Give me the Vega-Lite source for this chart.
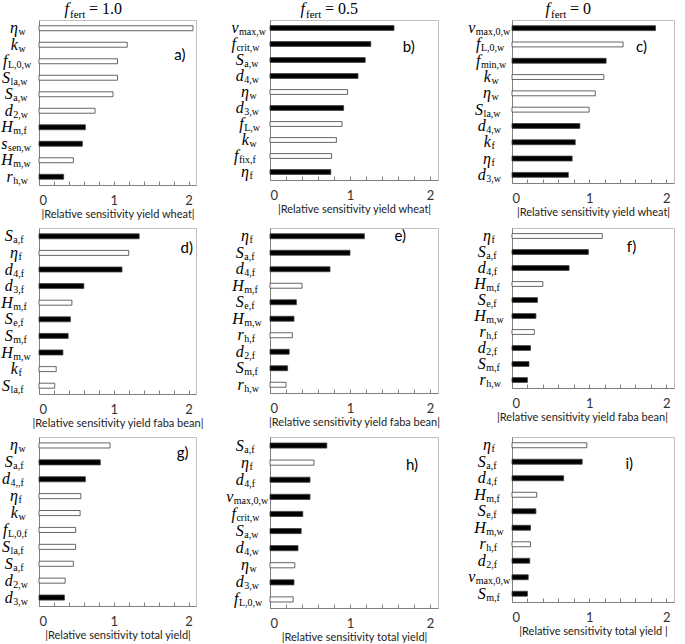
{
  "$schema": "https://vega.github.io/schema/vega-lite/v6.json",
  "background": "white",
  "padding": {"left": 0, "top": 0, "right": 2, "bottom": 1},
  "columns": 3,
  "align": "each",
  "bounds": "flush",
  "spacing": {"row": 43, "column": 74},
  "config": {
    "view": {"stroke": "#c0c0c0", "strokeWidth": 1},
    "font": "Lato",
    "axisX": {"tickCount": 11, "labelExpr": "datum.value === 0 ? '0' : datum.value === 1 ? '1' : datum.value === 2 ? '2' : ''", "grid": false, "tickSize": -4, "tickColor": "#7f7f7f", "domainColor": "#7f7f7f", "labelFont": "Lato", "labelFontSize": 13, "labelColor": "#333333", "labelPadding": 13, "titleFont": "Lato", "titleFontSize": 11, "titleFontWeight": "normal", "titleColor": "#222222", "titlePadding": 1},
    "axisY": {"labels": false, "ticks": false, "domain": true, "domainColor": "#7f7f7f", "title": null, "grid": false}
  },
  "datasets": {
    "sens": [
      {"panel":"a","rank":1,"sym":"η","sub":"w","value":2.06,"sign":"pos"},
      {"panel":"a","rank":2,"sym":"k","sub":"w","value":1.18,"sign":"pos"},
      {"panel":"a","rank":3,"sym":"f","sub":"L,0,w","value":1.05,"sign":"pos"},
      {"panel":"a","rank":4,"sym":"S","sub":"la,w","value":1.05,"sign":"pos"},
      {"panel":"a","rank":5,"sym":"S","sub":"a,w","value":0.99,"sign":"pos"},
      {"panel":"a","rank":6,"sym":"d","sub":"2,w","value":0.75,"sign":"pos"},
      {"panel":"a","rank":7,"sym":"H","sub":"m,f","value":0.62,"sign":"neg"},
      {"panel":"a","rank":8,"sym":"s","sub":"sen,w","value":0.58,"sign":"neg"},
      {"panel":"a","rank":9,"sym":"H","sub":"m,w","value":0.46,"sign":"pos"},
      {"panel":"a","rank":10,"sym":"r","sub":"h,w","value":0.33,"sign":"neg"},
      {"panel":"b","rank":1,"sym":"ν","sub":"max,w","value":1.55,"sign":"neg"},
      {"panel":"b","rank":2,"sym":"f","sub":"crit,w","value":1.26,"sign":"neg"},
      {"panel":"b","rank":3,"sym":"S","sub":"a,w","value":1.19,"sign":"neg"},
      {"panel":"b","rank":4,"sym":"d","sub":"4,w","value":1.10,"sign":"neg"},
      {"panel":"b","rank":5,"sym":"η","sub":"w","value":0.97,"sign":"pos"},
      {"panel":"b","rank":6,"sym":"d","sub":"3,w","value":0.92,"sign":"neg"},
      {"panel":"b","rank":7,"sym":"f","sub":"L,w","value":0.90,"sign":"pos"},
      {"panel":"b","rank":8,"sym":"k","sub":"w","value":0.83,"sign":"pos"},
      {"panel":"b","rank":9,"sym":"f","sub":"fix,f","value":0.77,"sign":"pos"},
      {"panel":"b","rank":10,"sym":"η","sub":"f","value":0.76,"sign":"neg"},
      {"panel":"c","rank":1,"sym":"ν","sub":"max,0,w","value":1.86,"sign":"neg"},
      {"panel":"c","rank":2,"sym":"f","sub":"L,0,w","value":1.44,"sign":"pos"},
      {"panel":"c","rank":3,"sym":"f","sub":"min,w","value":1.22,"sign":"neg"},
      {"panel":"c","rank":4,"sym":"k","sub":"w","value":1.19,"sign":"pos"},
      {"panel":"c","rank":5,"sym":"η","sub":"w","value":1.08,"sign":"pos"},
      {"panel":"c","rank":6,"sym":"S","sub":"la,w","value":1.00,"sign":"pos"},
      {"panel":"c","rank":7,"sym":"d","sub":"4,w","value":0.88,"sign":"neg"},
      {"panel":"c","rank":8,"sym":"k","sub":"f","value":0.82,"sign":"neg"},
      {"panel":"c","rank":9,"sym":"η","sub":"f","value":0.78,"sign":"neg"},
      {"panel":"c","rank":10,"sym":"d","sub":"3,w","value":0.73,"sign":"neg"},
      {"panel":"d","rank":1,"sym":"S","sub":"a,f","value":1.34,"sign":"neg"},
      {"panel":"d","rank":2,"sym":"η","sub":"f","value":1.20,"sign":"pos"},
      {"panel":"d","rank":3,"sym":"d","sub":"4,f","value":1.11,"sign":"neg"},
      {"panel":"d","rank":4,"sym":"d","sub":"3,f","value":0.60,"sign":"neg"},
      {"panel":"d","rank":5,"sym":"H","sub":"m,f","value":0.44,"sign":"pos"},
      {"panel":"d","rank":6,"sym":"S","sub":"e,f","value":0.42,"sign":"neg"},
      {"panel":"d","rank":7,"sym":"S","sub":"m,f","value":0.39,"sign":"neg"},
      {"panel":"d","rank":8,"sym":"H","sub":"m,w","value":0.32,"sign":"neg"},
      {"panel":"d","rank":9,"sym":"k","sub":"f","value":0.23,"sign":"pos"},
      {"panel":"d","rank":10,"sym":"S","sub":"la,f","value":0.21,"sign":"pos"},
      {"panel":"e","rank":1,"sym":"η","sub":"f","value":1.18,"sign":"neg"},
      {"panel":"e","rank":2,"sym":"S","sub":"a,f","value":1.00,"sign":"neg"},
      {"panel":"e","rank":3,"sym":"d","sub":"4,f","value":0.75,"sign":"neg"},
      {"panel":"e","rank":4,"sym":"H","sub":"m,f","value":0.40,"sign":"pos"},
      {"panel":"e","rank":5,"sym":"S","sub":"e,f","value":0.33,"sign":"neg"},
      {"panel":"e","rank":6,"sym":"H","sub":"m,w","value":0.30,"sign":"neg"},
      {"panel":"e","rank":7,"sym":"r","sub":"h,f","value":0.28,"sign":"pos"},
      {"panel":"e","rank":8,"sym":"d","sub":"2,f","value":0.24,"sign":"neg"},
      {"panel":"e","rank":9,"sym":"S","sub":"m,f","value":0.22,"sign":"neg"},
      {"panel":"e","rank":10,"sym":"r","sub":"h,w","value":0.20,"sign":"pos"},
      {"panel":"f","rank":1,"sym":"η","sub":"f","value":1.17,"sign":"pos"},
      {"panel":"f","rank":2,"sym":"S","sub":"a,f","value":0.99,"sign":"neg"},
      {"panel":"f","rank":3,"sym":"d","sub":"4,f","value":0.74,"sign":"neg"},
      {"panel":"f","rank":4,"sym":"H","sub":"m,f","value":0.40,"sign":"pos"},
      {"panel":"f","rank":5,"sym":"S","sub":"e,f","value":0.33,"sign":"neg"},
      {"panel":"f","rank":6,"sym":"H","sub":"m,w","value":0.31,"sign":"neg"},
      {"panel":"f","rank":7,"sym":"r","sub":"h,f","value":0.29,"sign":"pos"},
      {"panel":"f","rank":8,"sym":"d","sub":"2,f","value":0.24,"sign":"neg"},
      {"panel":"f","rank":9,"sym":"S","sub":"m,f","value":0.22,"sign":"neg"},
      {"panel":"f","rank":10,"sym":"r","sub":"h,w","value":0.20,"sign":"neg"},
      {"panel":"g","rank":1,"sym":"η","sub":"w","value":0.95,"sign":"pos"},
      {"panel":"g","rank":2,"sym":"S","sub":"a,f","value":0.82,"sign":"neg"},
      {"panel":"g","rank":3,"sym":"d","sub":"4,,f","value":0.62,"sign":"neg"},
      {"panel":"g","rank":4,"sym":"η","sub":"f","value":0.56,"sign":"pos"},
      {"panel":"g","rank":5,"sym":"k","sub":"w","value":0.55,"sign":"pos"},
      {"panel":"g","rank":6,"sym":"f","sub":"L,0,f","value":0.49,"sign":"pos"},
      {"panel":"g","rank":7,"sym":"S","sub":"la,f","value":0.49,"sign":"pos"},
      {"panel":"g","rank":8,"sym":"S","sub":"a,f","value":0.46,"sign":"pos"},
      {"panel":"g","rank":9,"sym":"d","sub":"2,w","value":0.35,"sign":"pos"},
      {"panel":"g","rank":10,"sym":"d","sub":"3,w","value":0.34,"sign":"neg"},
      {"panel":"h","rank":1,"sym":"S","sub":"a,f","value":0.71,"sign":"neg"},
      {"panel":"h","rank":2,"sym":"η","sub":"f","value":0.55,"sign":"pos"},
      {"panel":"h","rank":3,"sym":"d","sub":"4,f","value":0.50,"sign":"neg"},
      {"panel":"h","rank":4,"sym":"ν","sub":"max,0,w","value":0.50,"sign":"neg"},
      {"panel":"h","rank":5,"sym":"f","sub":"crit,w","value":0.41,"sign":"neg"},
      {"panel":"h","rank":6,"sym":"S","sub":"a,w","value":0.39,"sign":"neg"},
      {"panel":"h","rank":7,"sym":"d","sub":"4,w","value":0.35,"sign":"neg"},
      {"panel":"h","rank":8,"sym":"η","sub":"w","value":0.31,"sign":"pos"},
      {"panel":"h","rank":9,"sym":"d","sub":"3,w","value":0.30,"sign":"neg"},
      {"panel":"h","rank":10,"sym":"f","sub":"L,0,w","value":0.29,"sign":"pos"},
      {"panel":"i","rank":1,"sym":"η","sub":"f","value":0.97,"sign":"pos"},
      {"panel":"i","rank":2,"sym":"S","sub":"a,f","value":0.91,"sign":"neg"},
      {"panel":"i","rank":3,"sym":"d","sub":"4,f","value":0.67,"sign":"neg"},
      {"panel":"i","rank":4,"sym":"H","sub":"m,f","value":0.32,"sign":"pos"},
      {"panel":"i","rank":5,"sym":"S","sub":"e,f","value":0.31,"sign":"neg"},
      {"panel":"i","rank":6,"sym":"H","sub":"m,w","value":0.24,"sign":"neg"},
      {"panel":"i","rank":7,"sym":"r","sub":"h,f","value":0.24,"sign":"pos"},
      {"panel":"i","rank":8,"sym":"d","sub":"2,f","value":0.23,"sign":"neg"},
      {"panel":"i","rank":9,"sym":"ν","sub":"max,0,w","value":0.21,"sign":"neg"},
      {"panel":"i","rank":10,"sym":"S","sub":"m,f","value":0.20,"sign":"neg"}
    ]
  },
  "concat": [
    {
      "width": 157, "height": 165,
      "data": {"name": "sens"},
      "transform": [{"filter": "datum.panel === 'a'"}],
      "encoding": {"y": {"field": "rank", "type": "ordinal", "scale": {"paddingInner": 0.7, "paddingOuter": 0.35}}},
      "layer": [
        {"mark": {"type": "bar", "stroke": "#404040", "strokeWidth": 0.8},
         "encoding": {
           "x": {"field": "value", "type": "quantitative", "scale": {"domain": [0, 2.1], "nice": false}, "axis": {"title": "|Relative sensitivity yield wheat|"}},
           "fill": {"field": "sign", "type": "nominal", "scale": {"domain": ["neg", "pos"], "range": ["#000000", "#ffffff"]}, "legend": null}}},
        {"mark": {"type": "text", "font": "Liberation Serif", "fontStyle": "italic", "fontSize": 16, "align": "right", "baseline": "middle", "dx": {"expr": "-18.5 - 2.6*length(datum.sub)"}},
         "encoding": {"x": {"datum": 0}, "text": {"field": "sym"}}},
        {"mark": {"type": "text", "font": "Liberation Serif", "fontSize": 10, "align": "left", "baseline": "middle", "dy": 4, "dx": {"expr": "-18 - 2.6*length(datum.sub)"}},
         "encoding": {"x": {"datum": 0}, "text": {"field": "sub"}}},
        {"transform": [{"filter": "datum.rank === 1"}],
         "mark": {"type": "text", "text": "a)", "font": "Lato", "fontSize": 15, "align": "right", "baseline": "middle", "dy": 10},
         "encoding": {"x": {"datum": 1.96}, "y": {"datum": 2}}},
        {"transform": [{"filter": "datum.rank === 1"}],
         "mark": {"type": "text", "text": "f", "font": "Liberation Serif", "fontStyle": "italic", "fontSize": 16, "align": "right", "baseline": "alphabetic", "dx": 30, "dy": -14},
         "encoding": {"x": {"datum": 0}, "y": {"datum": 1}}},
        {"transform": [{"filter": "datum.rank === 1"}],
         "mark": {"type": "text", "text": "fert", "font": "Liberation Serif", "fontSize": 11, "align": "left", "baseline": "alphabetic", "dx": 31, "dy": -10},
         "encoding": {"x": {"datum": 0}, "y": {"datum": 1}}},
        {"transform": [{"filter": "datum.rank === 1"}],
         "mark": {"type": "text", "text": "= 1.0", "font": "Liberation Serif", "fontSize": 16, "align": "left", "baseline": "alphabetic", "dx": 50, "dy": -14},
         "encoding": {"x": {"datum": 0}, "y": {"datum": 1}}}
      ]
    },
    {
      "width": 168, "height": 160,
      "data": {"name": "sens"},
      "transform": [{"filter": "datum.panel === 'b'"}],
      "encoding": {"y": {"field": "rank", "type": "ordinal", "scale": {"paddingInner": 0.7, "paddingOuter": 0.35}}},
      "layer": [
        {"mark": {"type": "bar", "stroke": "#404040", "strokeWidth": 0.8},
         "encoding": {
           "x": {"field": "value", "type": "quantitative", "scale": {"domain": [0, 2.1], "nice": false}, "axis": {"title": "|Relative sensitivity yield wheat|"}},
           "fill": {"field": "sign", "type": "nominal", "scale": {"domain": ["neg", "pos"], "range": ["#000000", "#ffffff"]}, "legend": null}}},
        {"mark": {"type": "text", "font": "Liberation Serif", "fontStyle": "italic", "fontSize": 16, "align": "right", "baseline": "middle", "dx": {"expr": "-18.5 - 2.6*length(datum.sub)"}},
         "encoding": {"x": {"datum": 0}, "text": {"field": "sym"}}},
        {"mark": {"type": "text", "font": "Liberation Serif", "fontSize": 10, "align": "left", "baseline": "middle", "dy": 4, "dx": {"expr": "-18 - 2.6*length(datum.sub)"}},
         "encoding": {"x": {"datum": 0}, "text": {"field": "sub"}}},
        {"transform": [{"filter": "datum.rank === 1"}],
         "mark": {"type": "text", "text": "b)", "font": "Lato", "fontSize": 15, "align": "right", "baseline": "middle", "dy": 3},
         "encoding": {"x": {"datum": 1.81}, "y": {"datum": 2}}},
        {"transform": [{"filter": "datum.rank === 1"}],
         "mark": {"type": "text", "text": "f", "font": "Liberation Serif", "fontStyle": "italic", "fontSize": 16, "align": "right", "baseline": "alphabetic", "dx": 35, "dy": -14},
         "encoding": {"x": {"datum": 0}, "y": {"datum": 1}}},
        {"transform": [{"filter": "datum.rank === 1"}],
         "mark": {"type": "text", "text": "fert", "font": "Liberation Serif", "fontSize": 11, "align": "left", "baseline": "alphabetic", "dx": 36, "dy": -10},
         "encoding": {"x": {"datum": 0}, "y": {"datum": 1}}},
        {"transform": [{"filter": "datum.rank === 1"}],
         "mark": {"type": "text", "text": "= 0.5", "font": "Liberation Serif", "fontSize": 16, "align": "left", "baseline": "alphabetic", "dx": 55, "dy": -14},
         "encoding": {"x": {"datum": 0}, "y": {"datum": 1}}}
      ]
    },
    {
      "width": 162, "height": 163,
      "data": {"name": "sens"},
      "transform": [{"filter": "datum.panel === 'c'"}],
      "encoding": {"y": {"field": "rank", "type": "ordinal", "scale": {"paddingInner": 0.7, "paddingOuter": 0.35}}},
      "layer": [
        {"mark": {"type": "bar", "stroke": "#404040", "strokeWidth": 0.8},
         "encoding": {
           "x": {"field": "value", "type": "quantitative", "scale": {"domain": [0, 2.1], "nice": false}, "axis": {"title": "|Relative sensitivity yield wheat|"}},
           "fill": {"field": "sign", "type": "nominal", "scale": {"domain": ["neg", "pos"], "range": ["#000000", "#ffffff"]}, "legend": null}}},
        {"mark": {"type": "text", "font": "Liberation Serif", "fontStyle": "italic", "fontSize": 16, "align": "right", "baseline": "middle", "dx": {"expr": "-18.5 - 2.6*length(datum.sub)"}},
         "encoding": {"x": {"datum": 0}, "text": {"field": "sym"}}},
        {"mark": {"type": "text", "font": "Liberation Serif", "fontSize": 10, "align": "left", "baseline": "middle", "dy": 4, "dx": {"expr": "-18 - 2.6*length(datum.sub)"}},
         "encoding": {"x": {"datum": 0}, "text": {"field": "sub"}}},
        {"transform": [{"filter": "datum.rank === 1"}],
         "mark": {"type": "text", "text": "c)", "font": "Lato", "fontSize": 15, "align": "right", "baseline": "middle", "dy": 3},
         "encoding": {"x": {"datum": 1.75}, "y": {"datum": 2}}},
        {"transform": [{"filter": "datum.rank === 1"}],
         "mark": {"type": "text", "text": "f", "font": "Liberation Serif", "fontStyle": "italic", "fontSize": 16, "align": "right", "baseline": "alphabetic", "dx": 38, "dy": -14},
         "encoding": {"x": {"datum": 0}, "y": {"datum": 1}}},
        {"transform": [{"filter": "datum.rank === 1"}],
         "mark": {"type": "text", "text": "fert", "font": "Liberation Serif", "fontSize": 11, "align": "left", "baseline": "alphabetic", "dx": 39, "dy": -10},
         "encoding": {"x": {"datum": 0}, "y": {"datum": 1}}},
        {"transform": [{"filter": "datum.rank === 1"}],
         "mark": {"type": "text", "text": "= 0", "font": "Liberation Serif", "fontSize": 16, "align": "left", "baseline": "alphabetic", "dx": 58, "dy": -14},
         "encoding": {"x": {"datum": 0}, "y": {"datum": 1}}}
      ]
    },
    {
      "width": 157, "height": 166,
      "data": {"name": "sens"},
      "transform": [{"filter": "datum.panel === 'd'"}],
      "encoding": {"y": {"field": "rank", "type": "ordinal", "scale": {"paddingInner": 0.7, "paddingOuter": 0.35}}},
      "layer": [
        {"mark": {"type": "bar", "stroke": "#404040", "strokeWidth": 0.8},
         "encoding": {
           "x": {"field": "value", "type": "quantitative", "scale": {"domain": [0, 2.1], "nice": false}, "axis": {"title": "|Relative sensitivity yield faba bean|"}},
           "fill": {"field": "sign", "type": "nominal", "scale": {"domain": ["neg", "pos"], "range": ["#000000", "#ffffff"]}, "legend": null}}},
        {"mark": {"type": "text", "font": "Liberation Serif", "fontStyle": "italic", "fontSize": 16, "align": "right", "baseline": "middle", "dx": {"expr": "-18.5 - 2.6*length(datum.sub)"}},
         "encoding": {"x": {"datum": 0}, "text": {"field": "sym"}}},
        {"mark": {"type": "text", "font": "Liberation Serif", "fontSize": 10, "align": "left", "baseline": "middle", "dy": 4, "dx": {"expr": "-18 - 2.6*length(datum.sub)"}},
         "encoding": {"x": {"datum": 0}, "text": {"field": "sub"}}},
        {"transform": [{"filter": "datum.rank === 1"}],
         "mark": {"type": "text", "text": "d)", "font": "Lato", "fontSize": 15, "align": "right", "baseline": "middle", "dy": -5},
         "encoding": {"x": {"datum": 2.06}, "y": {"datum": 2}}}
      ]
    },
    {
      "width": 168, "height": 165,
      "data": {"name": "sens"},
      "transform": [{"filter": "datum.panel === 'e'"}],
      "encoding": {"y": {"field": "rank", "type": "ordinal", "scale": {"paddingInner": 0.7, "paddingOuter": 0.35}}},
      "layer": [
        {"mark": {"type": "bar", "stroke": "#404040", "strokeWidth": 0.8},
         "encoding": {
           "x": {"field": "value", "type": "quantitative", "scale": {"domain": [0, 2.1], "nice": false}, "axis": {"title": "|Relative sensitivity yield faba bean|"}},
           "fill": {"field": "sign", "type": "nominal", "scale": {"domain": ["neg", "pos"], "range": ["#000000", "#ffffff"]}, "legend": null}}},
        {"mark": {"type": "text", "font": "Liberation Serif", "fontStyle": "italic", "fontSize": 16, "align": "right", "baseline": "middle", "dx": {"expr": "-18.5 - 2.6*length(datum.sub)"}},
         "encoding": {"x": {"datum": 0}, "text": {"field": "sym"}}},
        {"mark": {"type": "text", "font": "Liberation Serif", "fontSize": 10, "align": "left", "baseline": "middle", "dy": 4, "dx": {"expr": "-18 - 2.6*length(datum.sub)"}},
         "encoding": {"x": {"datum": 0}, "text": {"field": "sub"}}},
        {"transform": [{"filter": "datum.rank === 1"}],
         "mark": {"type": "text", "text": "e)", "font": "Lato", "fontSize": 15, "align": "right", "baseline": "middle", "dy": 0},
         "encoding": {"x": {"datum": 1.70}, "y": {"datum": 1}}}
      ]
    },
    {
      "width": 162, "height": 160,
      "data": {"name": "sens"},
      "transform": [{"filter": "datum.panel === 'f'"}],
      "encoding": {"y": {"field": "rank", "type": "ordinal", "scale": {"paddingInner": 0.7, "paddingOuter": 0.35}}},
      "layer": [
        {"mark": {"type": "bar", "stroke": "#404040", "strokeWidth": 0.8},
         "encoding": {
           "x": {"field": "value", "type": "quantitative", "scale": {"domain": [0, 2.1], "nice": false}, "axis": {"title": "|Relative sensitivity yield faba bean|", "titleX": 70}},
           "fill": {"field": "sign", "type": "nominal", "scale": {"domain": ["neg", "pos"], "range": ["#000000", "#ffffff"]}, "legend": null}}},
        {"mark": {"type": "text", "font": "Liberation Serif", "fontStyle": "italic", "fontSize": 16, "align": "right", "baseline": "middle", "dx": {"expr": "-18.5 - 2.6*length(datum.sub)"}},
         "encoding": {"x": {"datum": 0}, "text": {"field": "sym"}}},
        {"mark": {"type": "text", "font": "Liberation Serif", "fontSize": 10, "align": "left", "baseline": "middle", "dy": 4, "dx": {"expr": "-18 - 2.6*length(datum.sub)"}},
         "encoding": {"x": {"datum": 0}, "text": {"field": "sub"}}},
        {"transform": [{"filter": "datum.rank === 1"}],
         "mark": {"type": "text", "text": "f)", "font": "Lato", "fontSize": 15, "align": "right", "baseline": "middle", "dy": -5},
         "encoding": {"x": {"datum": 1.61}, "y": {"datum": 2}}}
      ]
    },
    {
      "width": 157, "height": 169,
      "data": {"name": "sens"},
      "transform": [{"filter": "datum.panel === 'g'"}],
      "encoding": {"y": {"field": "rank", "type": "ordinal", "scale": {"paddingInner": 0.7, "paddingOuter": 0.35}}},
      "layer": [
        {"mark": {"type": "bar", "stroke": "#404040", "strokeWidth": 0.8},
         "encoding": {
           "x": {"field": "value", "type": "quantitative", "scale": {"domain": [0, 2.1], "nice": false}, "axis": {"title": "|Relative sensitivity total yield|"}},
           "fill": {"field": "sign", "type": "nominal", "scale": {"domain": ["neg", "pos"], "range": ["#000000", "#ffffff"]}, "legend": null}}},
        {"mark": {"type": "text", "font": "Liberation Serif", "fontStyle": "italic", "fontSize": 16, "align": "right", "baseline": "middle", "dx": {"expr": "-18.5 - 2.6*length(datum.sub)"}},
         "encoding": {"x": {"datum": 0}, "text": {"field": "sym"}}},
        {"mark": {"type": "text", "font": "Liberation Serif", "fontSize": 10, "align": "left", "baseline": "middle", "dy": 4, "dx": {"expr": "-18 - 2.6*length(datum.sub)"}},
         "encoding": {"x": {"datum": 0}, "text": {"field": "sub"}}},
        {"transform": [{"filter": "datum.rank === 1"}],
         "mark": {"type": "text", "text": "g)", "font": "Lato", "fontSize": 15, "align": "right", "baseline": "middle", "dy": 8},
         "encoding": {"x": {"datum": 2.0}, "y": {"datum": 1}}}
      ]
    },
    {
      "width": 168, "height": 171,
      "data": {"name": "sens"},
      "transform": [{"filter": "datum.panel === 'h'"}],
      "encoding": {"y": {"field": "rank", "type": "ordinal", "scale": {"paddingInner": 0.7, "paddingOuter": 0.35}}},
      "layer": [
        {"mark": {"type": "bar", "stroke": "#404040", "strokeWidth": 0.8},
         "encoding": {
           "x": {"field": "value", "type": "quantitative", "scale": {"domain": [0, 2.1], "nice": false}, "axis": {"title": "|Relative sensitivity total yield|"}},
           "fill": {"field": "sign", "type": "nominal", "scale": {"domain": ["neg", "pos"], "range": ["#000000", "#ffffff"]}, "legend": null}}},
        {"mark": {"type": "text", "font": "Liberation Serif", "fontStyle": "italic", "fontSize": 16, "align": "right", "baseline": "middle", "dx": {"expr": "-18.5 - 2.6*length(datum.sub)"}},
         "encoding": {"x": {"datum": 0}, "text": {"field": "sym"}}},
        {"mark": {"type": "text", "font": "Liberation Serif", "fontSize": 10, "align": "left", "baseline": "middle", "dy": 4, "dx": {"expr": "-18 - 2.6*length(datum.sub)"}},
         "encoding": {"x": {"datum": 0}, "text": {"field": "sub"}}},
        {"transform": [{"filter": "datum.rank === 1"}],
         "mark": {"type": "text", "text": "h)", "font": "Lato", "fontSize": 15, "align": "right", "baseline": "middle", "dy": 2},
         "encoding": {"x": {"datum": 1.85}, "y": {"datum": 2}}}
      ]
    },
    {
      "width": 162, "height": 165,
      "data": {"name": "sens"},
      "transform": [{"filter": "datum.panel === 'i'"}],
      "encoding": {"y": {"field": "rank", "type": "ordinal", "scale": {"paddingInner": 0.7, "paddingOuter": 0.35}}},
      "layer": [
        {"mark": {"type": "bar", "stroke": "#404040", "strokeWidth": 0.8},
         "encoding": {
           "x": {"field": "value", "type": "quantitative", "scale": {"domain": [0, 2.1], "nice": false}, "axis": {"title": "|Relative sensitivity total yield |"}},
           "fill": {"field": "sign", "type": "nominal", "scale": {"domain": ["neg", "pos"], "range": ["#000000", "#ffffff"]}, "legend": null}}},
        {"mark": {"type": "text", "font": "Liberation Serif", "fontStyle": "italic", "fontSize": 16, "align": "right", "baseline": "middle", "dx": {"expr": "-18.5 - 2.6*length(datum.sub)"}},
         "encoding": {"x": {"datum": 0}, "text": {"field": "sym"}}},
        {"mark": {"type": "text", "font": "Liberation Serif", "fontSize": 10, "align": "left", "baseline": "middle", "dy": 4, "dx": {"expr": "-18 - 2.6*length(datum.sub)"}},
         "encoding": {"x": {"datum": 0}, "text": {"field": "sub"}}},
        {"transform": [{"filter": "datum.rank === 1"}],
         "mark": {"type": "text", "text": "i)", "font": "Lato", "fontSize": 15, "align": "right", "baseline": "middle", "dy": 2},
         "encoding": {"x": {"datum": 1.57}, "y": {"datum": 2}}}
      ]
    }
  ]
}
